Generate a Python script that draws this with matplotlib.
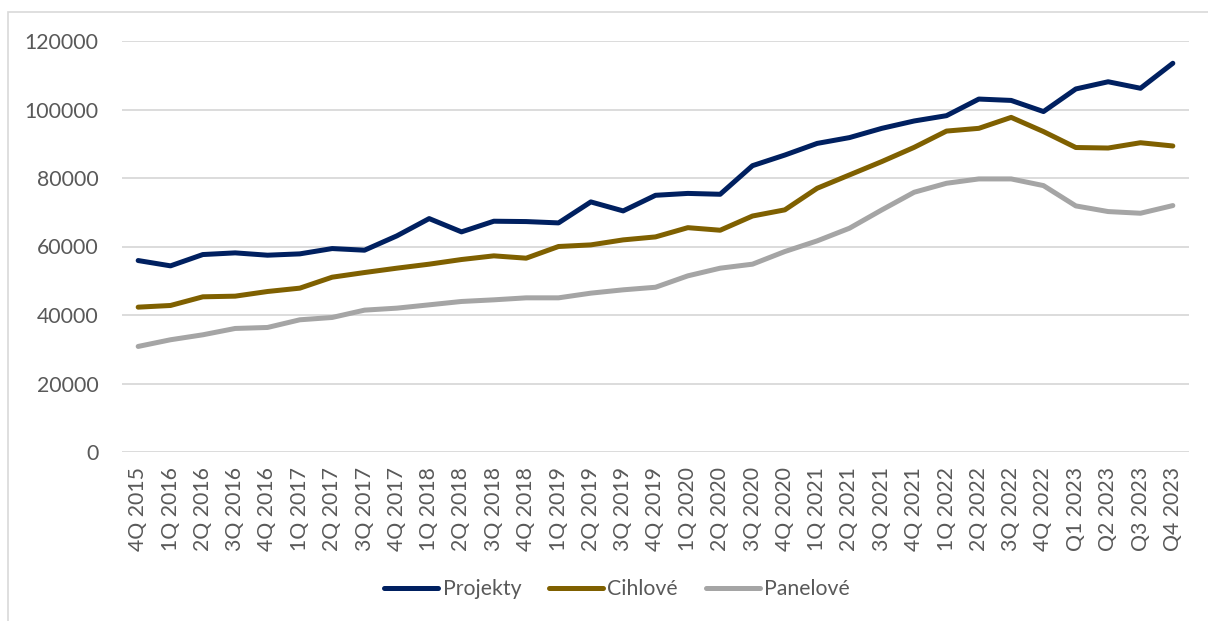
import matplotlib
matplotlib.use("Agg")
import matplotlib.pyplot as plt
from matplotlib.patches import Rectangle

# Quarterly price series (CZK per m²)
quarters = [
    "4Q 2015", "1Q 2016", "2Q 2016", "3Q 2016", "4Q 2016",
    "1Q 2017", "2Q 2017", "3Q 2017", "4Q 2017",
    "1Q 2018", "2Q 2018", "3Q 2018", "4Q 2018",
    "1Q 2019", "2Q 2019", "3Q 2019", "4Q 2019",
    "1Q 2020", "2Q 2020", "3Q 2020", "4Q 2020",
    "1Q 2021", "2Q 2021", "3Q 2021", "4Q 2021",
    "1Q 2022", "2Q 2022", "3Q 2022", "4Q 2022",
    "Q1 2023", "Q2 2023", "Q3 2023", "Q4 2023",
]

projekty = [
    55900, 54350, 57650, 58140, 57460, 57850, 59400, 58920, 63100,
    68150, 64270, 67380, 67280, 66890, 73020, 70390, 74950,
    75500, 75250, 83600, 86700, 90100, 91800, 94500, 96650,
    98200, 103050, 102650, 99400, 106000, 108100, 106200, 113500,
]

cihlove = [
    42290, 42780, 45310, 45500, 46860, 47840, 51040, 52400, 53670,
    54840, 56200, 57270, 56590, 60000, 60470, 61930, 62800,
    65500, 64750, 68900, 70700, 77000, 80900, 84800, 88950,
    93700, 94500, 97700, 93550, 88900, 88750, 90300, 89350,
]

panelove = [
    30820, 32770, 34220, 36070, 36360, 38600, 39280, 41420, 42000,
    42970, 43950, 44430, 45010, 45010, 46380, 47350, 48100,
    51430, 53670, 54840, 58530, 61640, 65340, 70690, 75840,
    78460, 79730, 79730, 77780, 71850, 70200, 69710, 71950,
]

series_names = ["Projekty", "Cihlové", "Panelové"]
series_colors = ["#002060", "#7F6000", "#A5A5A5"]

yticks = [0, 20000, 40000, 60000, 80000, 100000, 120000]

text_color = "#595959"
grid_color = "#D9D9D9"
font = ["Lato", "DejaVu Sans"]
fs = 15.3

W, H = 1208, 621
fig = plt.figure(figsize=(W / 100, H / 100), dpi=100)
fig.patch.set_facecolor("white")

# chart-area frame
fig.add_artist(Rectangle((8 / W, -0.2), 1.5, 0.2 + (1 - 12 / H),
                         transform=fig.transFigure, fill=False,
                         edgecolor=grid_color, linewidth=1.2))

ax = fig.add_axes([122 / W, 1 - 452 / H, (1189 - 122) / W, (452 - 41) / H])
x = list(range(len(quarters)))

for vals, name, col in zip([projekty, cihlove, panelove], series_names, series_colors):
    ax.plot(x, vals, color=col, linewidth=3.6, label=name,
            solid_capstyle="round", solid_joinstyle="round", zorder=3)

ax.set_xlim(-0.5, len(quarters) - 0.5)
ax.set_ylim(0, 120000)
ax.set_yticks(yticks)
ax.set_yticklabels([str(v) for v in yticks], fontsize=fs, color=text_color,
                   family=font)
ax.set_xticks(x)
ax.set_xticklabels(quarters, rotation=90, fontsize=fs, color=text_color,
                   family=font)
ax.tick_params(axis="y", length=0, pad=17)
ax.tick_params(axis="x", length=0, pad=11)
ax.grid(axis="y", color=grid_color, linewidth=1.3, zorder=0)
for s in ax.spines.values():
    s.set_visible(False)

leg = fig.legend(loc="center", bbox_to_anchor=(617 / W, 1 - 589 / H), ncol=3,
                 frameon=False, handlelength=2.55, handletextpad=0.2,
                 columnspacing=1.3, prop={"family": font, "size": fs})
for t in leg.get_texts():
    t.set_color(text_color)
for h in leg.get_lines():
    h.set_linewidth(3.6)

fig.savefig("out.png", dpi=100)
